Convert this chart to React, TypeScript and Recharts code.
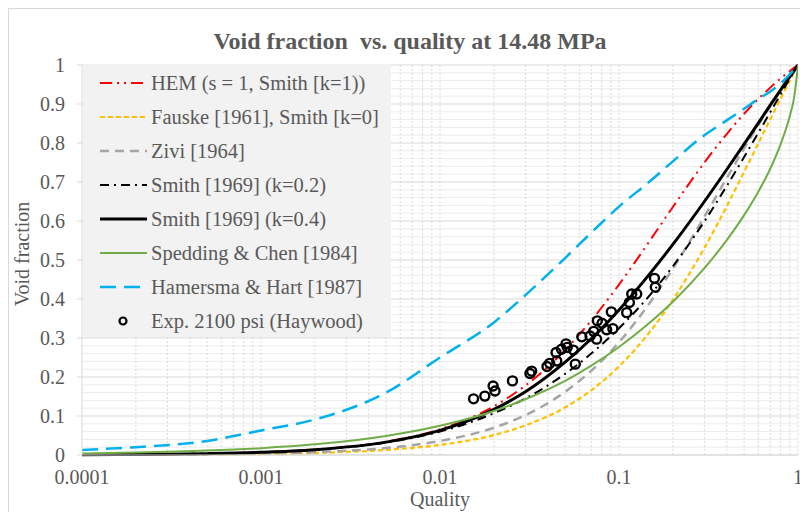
import { CartesianGrid, ComposedChart, Line, ReferenceLine, Scatter, XAxis, YAxis } from "recharts";

// quality (x) sample points
const QUALITY = [0.0001, 0.0002, 0.0005, 0.001, 0.002, 0.005, 0.01, 0.02, 0.03, 0.05, 0.07, 0.1, 0.15, 0.2, 0.3, 0.4, 0.5, 0.6, 0.7, 0.8, 0.9, 0.95, 1];

const HEM = [0.0007, 0.0014, 0.0035, 0.0069, 0.0138, 0.034, 0.066, 0.125, 0.178, 0.269, 0.345, 0.437, 0.552, 0.636, 0.75, 0.823, 0.875, 0.913, 0.942, 0.966, 0.984, 0.993, 1];
const FAUSKE = [0.0003, 0.0005, 0.0013, 0.0026, 0.0053, 0.0131, 0.026, 0.051, 0.076, 0.122, 0.166, 0.227, 0.318, 0.398, 0.531, 0.638, 0.726, 0.799, 0.861, 0.914, 0.96, 0.981, 1];
const ZIVI = [0.0004, 0.0007, 0.0018, 0.0037, 0.0073, 0.018, 0.036, 0.07, 0.102, 0.162, 0.216, 0.289, 0.393, 0.478, 0.611, 0.71, 0.786, 0.846, 0.895, 0.936, 0.971, 0.986, 1];
const SMITH_02 = [0.0007, 0.0014, 0.0035, 0.0069, 0.0135, 0.032, 0.06, 0.107, 0.145, 0.208, 0.26, 0.325, 0.412, 0.484, 0.599, 0.69, 0.764, 0.826, 0.879, 0.925, 0.965, 0.983, 1];
const SMITH_04 = [0.0007, 0.0014, 0.0035, 0.0069, 0.0137, 0.033, 0.063, 0.117, 0.162, 0.238, 0.298, 0.372, 0.467, 0.54, 0.65, 0.732, 0.797, 0.851, 0.897, 0.936, 0.97, 0.985, 1];
const SPEDDING = [0.004, 0.0063, 0.0113, 0.0176, 0.0274, 0.049, 0.075, 0.113, 0.143, 0.19, 0.229, 0.277, 0.341, 0.393, 0.479, 0.551, 0.615, 0.675, 0.734, 0.797, 0.869, 0.915, 1];
const HAMERSMA = [0.013, 0.02, 0.036, 0.063, 0.091, 0.16, 0.25, 0.34, 0.41, 0.505, 0.57, 0.637, 0.703, 0.753, 0.82, 0.858, 0.888, 0.913, 0.932, 0.953, 0.976, 0.988, 1];

// Haywood 2100 psi measurements
const EXP_X = [0.0154, 0.0178, 0.0198, 0.0203, 0.0254, 0.0318, 0.0325, 0.0396, 0.041, 0.0449, 0.0445, 0.0477, 0.0506, 0.0514, 0.0556, 0.057, 0.062, 0.0689, 0.0722, 0.075, 0.0757, 0.0804, 0.0853, 0.0924, 0.0906, 0.1104, 0.1143, 0.1178, 0.1256, 0.1578, 0.1596];
const EXP_VOID = [0.144, 0.151, 0.177, 0.164, 0.19, 0.209, 0.215, 0.227, 0.235, 0.241, 0.263, 0.271, 0.285, 0.276, 0.269, 0.233, 0.303, 0.305, 0.317, 0.297, 0.344, 0.338, 0.321, 0.324, 0.367, 0.365, 0.391, 0.413, 0.413, 0.453, 0.43];

const X_TICKS = [0.0001, 0.001, 0.01, 0.1, 1];
const Y_TICKS = [0, 0.1, 0.2, 0.3, 0.4, 0.5, 0.6, 0.7, 0.8, 0.9, 1];

const SERIES = [
  { key: "hem", name: "HEM (s = 1, Smith [k=1))", color: "#FF0000", width: 2, dash: "12 5 2 5 2 5" },
  { key: "fauske", name: "Fauske [1961], Smith [k=0]", color: "#FFC000", width: 2.2, dash: "5 3" },
  { key: "zivi", name: "Zivi [1964]", color: "#A5A5A5", width: 2.5, dash: "9 6" },
  { key: "smith02", name: "Smith [1969] (k=0.2)", color: "#000000", width: 2, dash: "9 5 2 5" },
  { key: "smith04", name: "Smith [1969] (k=0.4)", color: "#000000", width: 3, dash: undefined },
  { key: "spedding", name: "Spedding & Chen [1984]", color: "#70AD47", width: 2, dash: undefined },
  { key: "hamersma", name: "Hamersma & Hart [1987]", color: "#00B0F0", width: 2.5, dash: "16 8" },
];

const curveRows = QUALITY.map((x, i) => ({
  x,
  hem: HEM[i],
  fauske: FAUSKE[i],
  zivi: ZIVI[i],
  smith02: SMITH_02[i],
  smith04: SMITH_04[i],
  spedding: SPEDDING[i],
  hamersma: HAMERSMA[i],
}));
const expRows = EXP_X.map((x, i) => ({ x, void: EXP_VOID[i] }));

// minor grid positions
const MINOR_X: number[] = [];
[0.0001, 0.001, 0.01, 0.1].forEach((d) => {
  for (let m = 2; m <= 10; m++) MINOR_X.push(+(d * m).toPrecision(3));
});
const MINOR_Y: number[] = [];
for (let i = 1; i < 50; i++) if (i % 5) MINOR_Y.push(i / 50);

const FONT = "'Liberation Serif', 'Times New Roman', serif";
const TEXT = "#595959";
const AXIS = { fontSize: 20, fill: TEXT, fontFamily: FONT };

const Ring = (p: any) => <circle cx={p.cx} cy={p.cy} r={4.5} fill="none" stroke="#000" strokeWidth={2.4} />;

function LegendBox() {
  return (
    <div style={{ position: "absolute", left: 83, top: 64, width: 308, height: 273, background: "#f2f2f2", fontFamily: FONT, fontSize: 20.5, color: TEXT }}>
      {SERIES.map((s, i) => (
        <div key={s.key} style={{ position: "absolute", left: 0, top: 2 + i * 34, height: 34, display: "flex", alignItems: "center", whiteSpace: "nowrap" }}>
          <svg width={68} height={10}>
            <line x1={17} x2={64} y1={5} y2={5} stroke={s.color} strokeWidth={s.width} strokeDasharray={s.dash} />
          </svg>
          <span>{s.name}</span>
        </div>
      ))}
      <div style={{ position: "absolute", left: 0, top: 2 + 7 * 34, height: 34, display: "flex", alignItems: "center", whiteSpace: "nowrap" }}>
        <svg width={68} height={12}>
          <circle cx={40} cy={6} r={3.5} fill="none" stroke="#000" strokeWidth={2.2} />
        </svg>
        <span>Exp. 2100 psi (Haywood)</span>
      </div>
    </div>
  );
}

export default function App() {
  return (
    <div style={{ position: "fixed", left: 0, top: 0, width: 800, height: 512, overflow: "hidden", background: "#fff" }}>
      <div style={{ position: "absolute", left: 8, top: 8, width: 820, height: 540, border: "1px solid #d9d9d9" }} />
      <div style={{ position: "absolute", left: 8, top: 8 }}>
        <ComposedChart width={792} height={504} margin={{ top: 57, right: 2, bottom: 7, left: 24 }}>
          <CartesianGrid horizontal vertical={false} stroke="#d9d9d9" />
          {MINOR_Y.map((y) => (
            <ReferenceLine key={"y" + y} y={y} stroke="#ececec" strokeWidth={1} />
          ))}
          {MINOR_X.map((x) => (
            <ReferenceLine key={"x" + x} x={x} stroke="#d9d9d9" strokeDasharray="2 2" strokeWidth={1} />
          ))}
          <XAxis
            dataKey="x"
            type="number"
            scale="log"
            domain={[0.0001, 1]}
            ticks={X_TICKS}
            interval={0}
            allowDataOverflow
            tick={AXIS}
            tickFormatter={(v) => String(v)}
            tickLine={false}
            tickSize={5}
            tickMargin={10}
            height={50}
            stroke="#d9d9d9"
          />
          <YAxis
            type="number"
            domain={[0, 1]}
            ticks={Y_TICKS}
            interval={0}
            tick={AXIS}
            tickFormatter={(v) => String(v)}
            tickSize={5}
            tickMargin={12}
            width={50}
            stroke="#d9d9d9"
          />
          {SERIES.map((s) => (
            <Line
              key={s.key}
              data={curveRows}
              dataKey={s.key}
              name={s.name}
              type="monotone"
              stroke={s.color}
              strokeWidth={s.width}
              strokeDasharray={s.dash}
              dot={false}
              activeDot={false}
              isAnimationActive={false}
            />
          ))}
          <Scatter data={expRows} dataKey="void" name="Exp. 2100 psi (Haywood)" shape={Ring} isAnimationActive={false} />
        </ComposedChart>
      </div>
      <LegendBox />
      <div style={{ position: "absolute", left: 8, width: 804, top: 27, textAlign: "center", fontFamily: FONT, fontSize: 24, fontWeight: "bold", color: TEXT, lineHeight: "28px", whiteSpace: "pre" }}>
        Void fraction  vs. quality at 14.48 MPa
      </div>
      <div style={{ position: "absolute", left: 390, width: 100, top: 487, textAlign: "center", fontFamily: FONT, fontSize: 20, color: TEXT, lineHeight: "24px" }}>
        Quality
      </div>
      <div style={{ position: "absolute", left: 22 - 70, top: 254 - 12, width: 140, textAlign: "center", transform: "rotate(-90deg)", fontFamily: FONT, fontSize: 20, color: TEXT, lineHeight: "24px", whiteSpace: "nowrap" }}>
        Void fraction
      </div>
    </div>
  );
}
